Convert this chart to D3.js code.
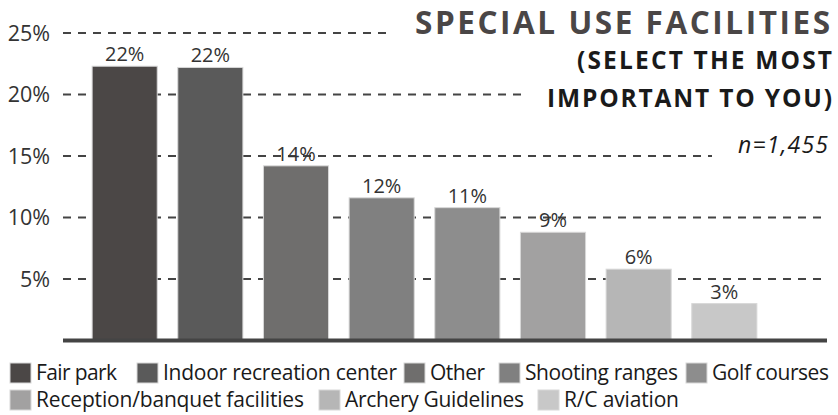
<!DOCTYPE html>
<html><head><meta charset="utf-8">
<script src="https://cdn.jsdelivr.net/npm/d3@7"></script>
<style>body{margin:0;background:#fff}svg{display:block}text{font-family:"Open Sans",sans-serif}</style>
</head><body>
<svg id="c" width="838" height="415"></svg>
<script>
const categories = ["Fair park","Indoor recreation center","Other","Shooting ranges","Golf courses","Reception/banquet facilities","Archery Guidelines","R/C aviation"];
const values = [22.3, 22.2, 14.2, 11.6, 10.8, 8.8, 5.8, 3.0];
const valueLabels = ["22%","22%","14%","12%","11%","9%","6%","3%"];
const colors = ["#4b4746","#5a5a5a","#6f6e6d","#808080","#8d8d8d","#a2a1a1","#b6b6b6","#c8c8c8"];
const yTicks = [5,10,15,20,25];
const tickLabels = ["5%","10%","15%","20%","25%"];

// layout constants
const gridEnds = [826,826,712,528,387];
const legendRows = [[0,1,2,3,4],[5,6,7]];
const legendSqX = [[10,137,404,499,686],[10,319,538]];
const legendTextW = [[81,234,55,153,117],[268,179,115]];
const legendRowY = [373,400];

const svg = d3.select("#c");
const x = d3.scaleBand().domain(categories).range([63,786]).paddingInner(0.24).paddingOuter(0.34);
const y = d3.scaleLinear().domain([0,25]).range([340.5,33]);

// gridlines
svg.append("g").selectAll("line").data(yTicks).join("line")
  .attr("x1",63).attr("x2",(d,i)=>gridEnds[i])
  .attr("y1",d=>y(d)).attr("y2",d=>y(d))
  .attr("stroke","#444").attr("stroke-width",2).attr("stroke-dasharray","8,7");

// tick labels
svg.append("g").selectAll("text").data(yTicks).join("text")
  .attr("x",50).attr("y",d=>y(d)+7.5).attr("text-anchor","end")
  .attr("font-size",21.5).attr("fill","#333").text((d,i)=>tickLabels[i]);

// bars
svg.append("g").selectAll("rect").data(values).join("rect")
  .attr("x",(d,i)=>x(categories[i])).attr("width",x.bandwidth())
  .attr("y",d=>y(d)).attr("height",d=>y(0)-y(d))
  .attr("fill",(d,i)=>colors[i]).attr("stroke","#d8d8d8").attr("stroke-width",1);

// value labels
svg.append("g").selectAll("text").data(values).join("text")
  .attr("x",(d,i)=>x(categories[i])+x.bandwidth()/2).attr("y",d=>y(d)-5)
  .attr("text-anchor","middle").attr("font-size",20).attr("fill","#333")
  .text((d,i)=>valueLabels[i]);

// baseline
svg.append("line").attr("x1",63).attr("x2",827).attr("y1",y(0)).attr("y2",y(0))
  .attr("stroke","#444").attr("stroke-width",4);

// titles
function fitText(txt, left, right, yy, size, weight, style, fill){
  svg.append("text").attr("x",left).attr("y",yy)
    .attr("font-size",size).attr("font-weight",weight).attr("font-style",style)
    .attr("fill",fill).attr("textLength",right-left).attr("lengthAdjust","spacing").text(txt);
}
fitText("SPECIAL USE FACILITIES",415,830,34,31.5,"bold","normal","#4a4646");
fitText("(SELECT THE MOST",577,832,69,24.5,"bold","normal","#1a1a1a");
fitText("IMPORTANT TO YOU)",547,832,107,24.5,"bold","normal","#1a1a1a");
fitText("n=1,455",738,828,153,23,"normal","italic","#1a1a1a");

// legend
legendRows.forEach((r,ri)=>{
  r.forEach((i,k)=>{
    const sx = legendSqX[ri][k];
    svg.append("rect").attr("x",sx).attr("y",legendRowY[ri]-10).attr("width",21).attr("height",20)
      .attr("fill",colors[i]).attr("stroke","#d8d8d8").attr("stroke-width",1);
    svg.append("text").attr("x",sx+26).attr("y",legendRowY[ri]+7).attr("font-size",21)
      .attr("fill","#1a1a1a").attr("textLength",legendTextW[ri][k]).attr("lengthAdjust","spacing")
      .text(categories[i]);
  });
});
</script>
</body></html>
